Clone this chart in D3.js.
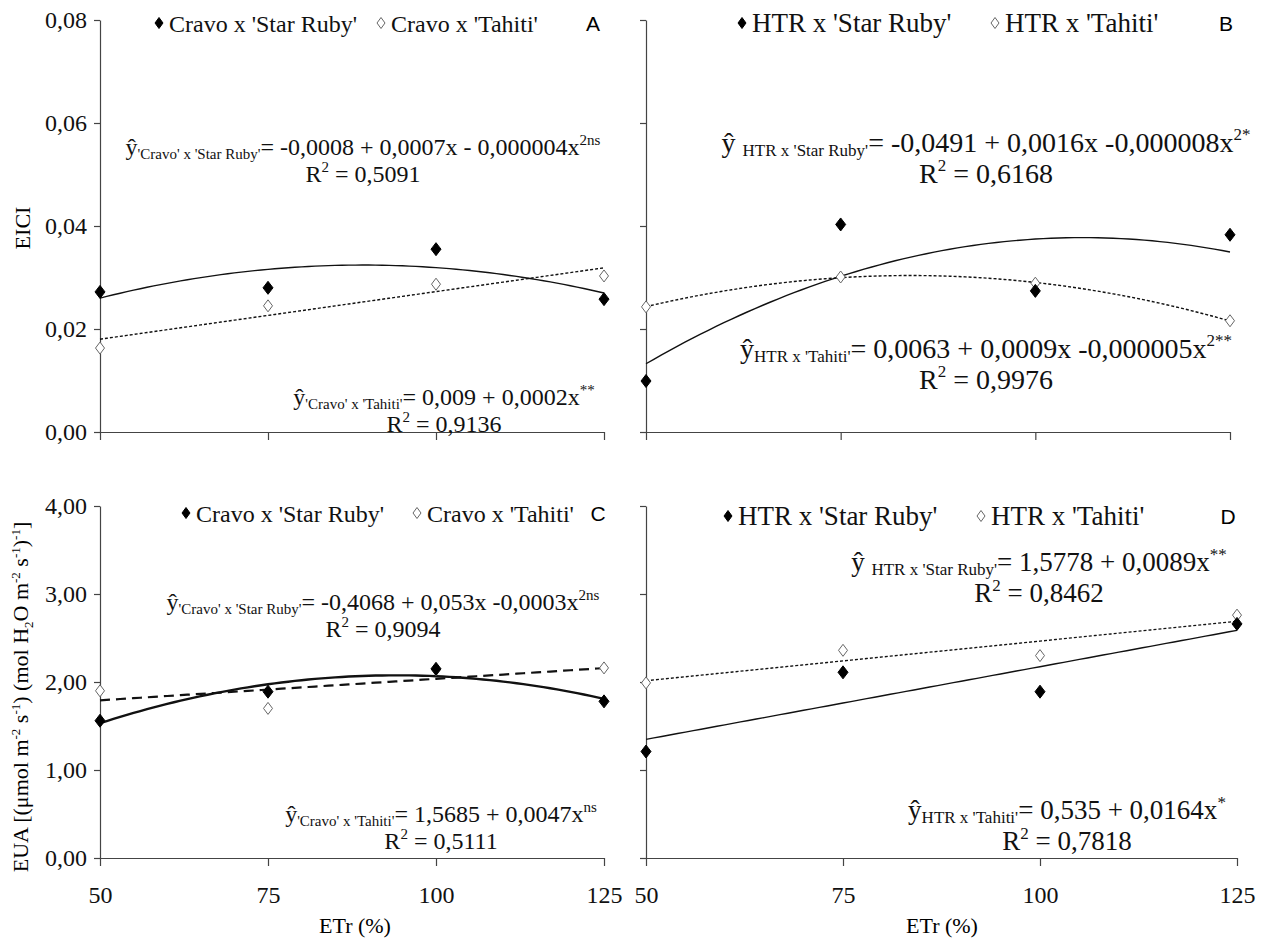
<!DOCTYPE html>
<html lang="pt">
<head>
<meta charset="UTF-8">
<title>EICI e EUA</title>
<script src="https://d3js.org/d3.v7.min.js"></script>
<style>
  body { margin: 0; background: #fff; }
</style>
</head>
<body>
<div id="chart"></div>
<script>
// Data
const etr = [50, 75, 100, 125];
const etrTicks = [50, 75, 100, 125];
const eiciTicks = [0, 0.02, 0.04, 0.06, 0.08];
const euaTicks = [0, 1, 2, 3, 4];

const eiciCravoStarRuby = [0.0272, 0.0280, 0.0355, 0.0258];
const eiciCravoTahiti   = [0.0163, 0.0245, 0.0287, 0.0303];
const eiciHtrStarRuby   = [0.0099, 0.0403, 0.0274, 0.0383];
const eiciHtrTahiti     = [0.0243, 0.0301, 0.0289, 0.0216];
const euaCravoStarRuby  = [1.56, 1.89, 2.15, 1.78];
const euaCravoTahiti    = [1.90, 1.70, 2.14, 2.16];
const euaHtrStarRuby    = [1.21, 2.11, 1.89, 2.66];
const euaHtrTahiti      = [1.99, 2.36, 2.30, 2.76];

const SERIF = "Liberation Serif";
const SANS = "Liberation Sans";

const width = 1262, height = 940;
const svg = d3.select("#chart").append("svg")
  .attr("width", width).attr("height", height)
  .attr("font-family", SERIF);

const fmt = d3.formatLocale({decimal: ",", thousands: ".", grouping: [3], currency: ["", ""]}).format(".2f");

// least squares polynomial fit (degree 1 or 2)
function polyfit(xs, ys, deg) {
  const n = deg + 1;
  const A = [], b = [];
  for (let i = 0; i < n; i++) {
    A.push([]);
    for (let j = 0; j < n; j++) A[i].push(d3.sum(xs, x => Math.pow(x, i + j)));
    b.push(d3.sum(xs, (x, k) => ys[k] * Math.pow(x, i)));
  }
  for (let i = 0; i < n; i++) {
    for (let r = i + 1; r < n; r++) {
      const f = A[r][i] / A[i][i];
      for (let c = i; c < n; c++) A[r][c] -= f * A[i][c];
      b[r] -= f * b[i];
    }
  }
  const coef = new Array(n).fill(0);
  for (let i = n - 1; i >= 0; i--) {
    let s = b[i];
    for (let c = i + 1; c < n; c++) s -= A[i][c] * coef[c];
    coef[i] = s / A[i][i];
  }
  return x => coef.reduce((acc, c, i) => acc + c * Math.pow(x, i), 0);
}

function diamond(w, h) {
  return `M0,${-h}L${w},0L0,${h}L${-w},0Z`;
}

// equation: parts = [[text, kind]] kind: n | sub | sup
function equation(g, cx, y, parts, fs, sfs) {
  const t = g.append("text").attr("x", cx).attr("y", y).attr("text-anchor", "middle")
    .attr("font-family", SERIF).attr("fill", "#111");
  let shift = 0;
  parts.forEach(([txt, kind]) => {
    const target = kind === "sub" ? Math.round(fs * 0.15) : kind === "sup" ? -Math.round(fs * 0.42) : 0;
    t.append("tspan")
      .attr("dy", target - shift)
      .attr("font-size", kind === "n" ? fs : sfs)
      .text(txt);
    shift = target;
  });
  return t;
}

const panels = [
  {
    x0: 100, x1: 604, yTop: 20, yBot: 432, domain: [0, 0.08], ticks: eiciTicks, yLabels: true, xLabels: false,
    letter: "A", letterX: 593, legendY: 23, legendFs: 24, fs: 24, sfs: 15, gap: 27,
    legend: [{x: 159, name: "Cravo x 'Star Ruby'", filled: true}, {x: 381, name: "Cravo x 'Tahiti'", filled: false}],
    series: [
      {vals: eiciCravoStarRuby, filled: true, deg: 2, dash: null, sw: 1.4},
      {vals: eiciCravoTahiti, filled: false, deg: 1, dash: "3,2", sw: 1.4}
    ],
    eqs: [
      {cx: 363, y: 155, parts: [["ŷ", "n"], ["'Cravo' x 'Star Ruby'", "sub"], ["= -0,0008 + 0,0007x - 0,000004x", "n"], ["2ns", "sup"]], r2: "0,5091"},
      {cx: 444, y: 405, parts: [["ŷ", "n"], ["'Cravo' x 'Tahiti'", "sub"], ["= 0,009 + 0,0002x", "n"], ["**", "sup"]], r2: "0,9136"}
    ]
  },
  {
    x0: 646, x1: 1230, yTop: 20, yBot: 432, domain: [0, 0.08], ticks: eiciTicks, yLabels: false, xLabels: false,
    letter: "B", letterX: 1226, legendY: 23, legendFs: 27, fs: 28, sfs: 17, gap: 31,
    legend: [{x: 742, name: "HTR x 'Star Ruby'", filled: true}, {x: 995, name: "HTR x 'Tahiti'", filled: false}],
    series: [
      {vals: eiciHtrStarRuby, filled: true, deg: 2, dash: null, sw: 1.4},
      {vals: eiciHtrTahiti, filled: false, deg: 2, dash: "3,2", sw: 1.4}
    ],
    eqs: [
      {cx: 986, y: 152, parts: [["ŷ ", "n"], ["HTR x 'Star Ruby'", "sub"], ["= -0,0491 + 0,0016x -0,000008x", "n"], ["2*", "sup"]], r2: "0,6168"},
      {cx: 986, y: 358, parts: [["ŷ", "n"], ["HTR x 'Tahiti'", "sub"], ["= 0,0063 + 0,0009x -0,000005x", "n"], ["2**", "sup"]], r2: "0,9976"}
    ]
  },
  {
    x0: 100, x1: 604, yTop: 506, yBot: 858, domain: [0, 4], ticks: euaTicks, yLabels: true, xLabels: true,
    letter: "C", letterX: 598, legendY: 513, legendFs: 24, fs: 24, sfs: 15, gap: 27,
    legend: [{x: 186, name: "Cravo x 'Star Ruby'", filled: true}, {x: 417, name: "Cravo x 'Tahiti'", filled: false}],
    series: [
      {vals: euaCravoStarRuby, filled: true, deg: 2, dash: null, sw: 2.4},
      {vals: euaCravoTahiti, filled: false, deg: 1, dash: "10,6", sw: 2.2}
    ],
    eqs: [
      {cx: 383, y: 610, parts: [["ŷ", "n"], ["'Cravo' x 'Star Ruby'", "sub"], ["= -0,4068 + 0,053x -0,0003x", "n"], ["2ns", "sup"]], r2: "0,9094"},
      {cx: 441, y: 822, parts: [["ŷ", "n"], ["'Cravo' x 'Tahiti'", "sub"], ["= 1,5685 + 0,0047x", "n"], ["ns", "sup"]], r2: "0,5111"}
    ]
  },
  {
    x0: 646, x1: 1237, yTop: 506, yBot: 858, domain: [0, 4], ticks: euaTicks, yLabels: false, xLabels: true,
    letter: "D", letterX: 1228, legendY: 516, legendFs: 27, fs: 27, sfs: 17, gap: 31,
    legend: [{x: 728, name: "HTR x 'Star Ruby'", filled: true}, {x: 981, name: "HTR x 'Tahiti'", filled: false}],
    series: [
      {vals: euaHtrStarRuby, filled: true, deg: 1, dash: null, sw: 1.4},
      {vals: euaHtrTahiti, filled: false, deg: 1, dash: "3,2", sw: 1.4}
    ],
    eqs: [
      {cx: 1039, y: 571, parts: [["ŷ ", "n"], ["HTR x 'Star Ruby'", "sub"], ["= 1,5778 + 0,0089x", "n"], ["**", "sup"]], r2: "0,8462"},
      {cx: 1067, y: 819, parts: [["ŷ", "n"], ["HTR x 'Tahiti'", "sub"], ["= 0,535 + 0,0164x", "n"], ["*", "sup"]], r2: "0,7818"}
    ]
  }
];

panels.forEach(p => {
  const g = svg.append("g");
  const x = d3.scaleLinear().domain([50, 125]).range([p.x0, p.x1]);
  const y = d3.scaleLinear().domain(p.domain).range([p.yBot, p.yTop]);

  // axes
  const ya = g.append("g").attr("transform", `translate(${p.x0},0)`)
    .call(d3.axisLeft(y).tickValues(p.ticks).tickSize(6).tickSizeOuter(0).tickFormat(p.yLabels ? fmt : ""));
  const xa = g.append("g").attr("transform", `translate(0,${p.yBot})`)
    .call(d3.axisBottom(x).tickValues(etrTicks).tickSize(8).tickSizeOuter(0).tickFormat(p.xLabels ? d3.format("d") : ""));
  [ya, xa].forEach(a => {
    a.attr("font-family", SERIF).attr("font-size", 24);
    a.selectAll("text").attr("fill", "#111");
    a.select(".domain").attr("stroke", "#444").attr("stroke-width", 1.2);
    a.selectAll(".tick line").attr("stroke", "#444").attr("stroke-width", 1.2);
  });
  ya.selectAll("text").attr("x", -13);
  xa.selectAll("text").attr("y", 28);

  // trend lines
  const samples = d3.range(50, 125.01, 1);
  p.series.forEach(s => {
    const f = polyfit(etr, s.vals, s.deg);
    g.append("path")
      .datum(samples)
      .attr("fill", "none")
      .attr("stroke", "#111")
      .attr("stroke-width", s.sw)
      .attr("stroke-dasharray", s.dash)
      .attr("d", d3.line().x(d => x(d)).y(d => y(f(d))));
  });

  // points
  p.series.slice().reverse().forEach(s => {
    g.selectAll(null).data(s.vals).enter().append("path")
      .attr("transform", (d, i) => `translate(${x(etr[i])},${y(d)})`)
      .attr("d", s.filled ? diamond(5, 6.5) : diamond(4.5, 6))
      .attr("fill", s.filled ? "#000" : "#fff")
      .attr("stroke", s.filled ? "#000" : "#666")
      .attr("stroke-width", 1);
  });

  // legend
  p.legend.forEach(l => {
    g.append("path")
      .attr("transform", `translate(${l.x},${p.legendY})`)
      .attr("d", diamond(4, 5.5))
      .attr("fill", l.filled ? "#000" : "#fff")
      .attr("stroke", l.filled ? "#000" : "#666");
    g.append("text")
      .attr("x", l.x + 10).attr("y", p.legendY + 9)
      .attr("font-family", SERIF)
      .attr("font-size", p.legendFs)
      .attr("fill", "#111")
      .text(l.name);
  });
  g.append("text")
    .attr("x", p.letterX).attr("y", p.legendY + 8)
    .attr("text-anchor", "middle")
    .attr("font-family", SANS)
    .attr("font-size", 21)
    .text(p.letter);

  // equations
  p.eqs.forEach(e => {
    equation(g, e.cx, e.y, e.parts, p.fs, p.sfs);
    equation(g, e.cx, e.y + p.gap, [["R", "n"], ["2", "sup"], [" = " + e.r2, "n"]], p.fs, p.sfs);
  });
});

// axis titles
svg.append("text")
  .attr("transform", "translate(30,228) rotate(-90)")
  .attr("text-anchor", "middle")
  .attr("font-family", SERIF)
  .attr("font-size", 22)
  .text("EICI");

const eua = svg.append("text")
  .attr("transform", "translate(28,697) rotate(-90)")
  .attr("text-anchor", "middle")
  .attr("font-family", SERIF)
  .attr("font-size", 22);
[["EUA  [(μmol m", 0], ["-2", -8], [" s", 0], ["-1", -8], [") (mol H", 0], ["2", 5], ["O m", 0], ["-2", -8], [" s", 0], ["-1", -8], [")", 0], ["-1", -8], ["]", 0]]
  .reduce((prev, [t, sh]) => {
    eua.append("tspan").attr("dy", sh - prev).attr("font-size", sh === 0 ? 22 : 13).text(t);
    return sh;
  }, 0);

[355, 942].forEach(cx => {
  svg.append("text")
    .attr("x", cx).attr("y", 933)
    .attr("text-anchor", "middle")
    .attr("font-family", SERIF)
    .attr("font-size", 22)
    .text("ETr (%)");
});
</script>
</body>
</html>
